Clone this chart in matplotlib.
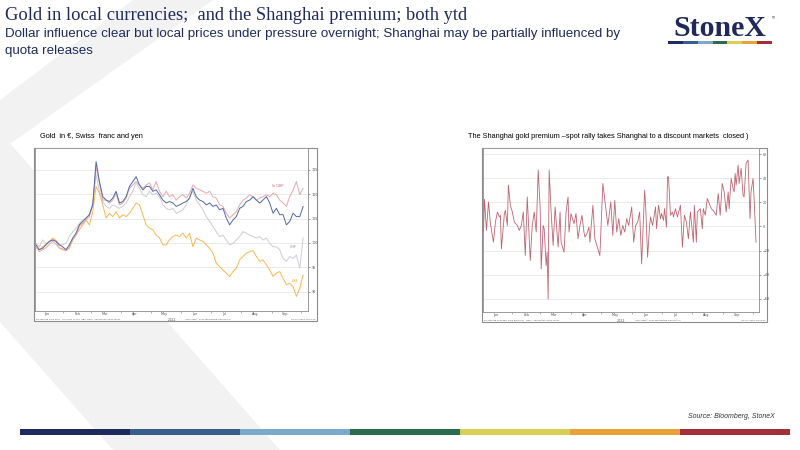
import numpy as np
import pandas as pd
import matplotlib
matplotlib.use("Agg")
import matplotlib.pyplot as plt
import matplotlib.dates as mdates
from matplotlib.patches import Polygon, Rectangle

# ---- data: gold rebased to 100, sampled roughly every 3.4 days ----
gold_dates = pd.date_range("2022-01-04", "2022-10-03", periods=81)

gold_eur = [99.6, 98.6, 98.9, 99.6, 100.3, 100.6, 100.3, 99.6, 99.2, 98.6,
            99.6, 101.0, 102.0, 103.7, 104.4, 105.1, 105.8, 107.8, 116.7, 112.6,
            109.5, 108.8, 108.5, 109.2, 110.6, 108.2, 108.5, 109.5, 111.6, 112.6,
            113.6, 111.9, 110.9, 111.6, 111.6, 110.6, 110.9, 109.9, 108.8, 108.2,
            108.5, 108.2, 107.5, 107.8, 108.2, 108.5, 109.2, 111.2, 109.5, 108.8,
            108.5, 107.8, 108.2, 107.5, 107.8, 106.8, 107.1, 105.1, 103.7, 104.7,
            105.4, 107.1, 107.5, 108.5, 108.8, 109.5, 108.8, 108.2, 108.8, 109.5,
            108.2, 106.1, 107.1, 105.8, 105.8, 103.7, 104.4, 106.1, 105.4, 105.4,
            107.5]

gold_gbp = [99.2, 98.2, 98.6, 99.0, 99.7, 100.3, 99.7, 99.0, 98.8, 98.4,
            99.2, 100.6, 101.6, 103.4, 104.0, 104.7, 105.4, 107.8, 115.7, 112.3,
            108.8, 108.8, 108.2, 108.8, 110.2, 107.8, 108.2, 109.2, 111.2, 111.9,
            112.6, 111.9, 111.2, 111.9, 112.3, 110.9, 112.6, 110.6, 109.5, 110.6,
            109.5, 109.9, 108.8, 109.5, 109.9, 109.2, 110.2, 111.9, 111.2, 110.9,
            110.6, 110.2, 110.6, 109.5, 109.2, 107.8, 107.5, 106.1, 105.1, 105.8,
            106.4, 107.8, 108.8, 109.2, 109.9, 109.5, 108.8, 109.2, 109.5, 109.9,
            109.5, 110.2, 109.9, 108.8, 108.2, 107.5, 109.5, 110.9, 112.6, 109.9,
            111.2]

gold_chf = [99.9, 99.2, 100.6, 99.9, 100.3, 100.6, 100.6, 99.6, 99.6, 99.9,
            101.3, 102.3, 103.0, 104.0, 104.7, 105.1, 105.8, 108.2, 114.0, 110.6,
            108.5, 107.5, 107.1, 107.8, 107.5, 107.1, 107.5, 108.2, 109.5, 110.6,
            112.3, 111.2, 109.9, 109.5, 110.6, 109.9, 110.2, 109.5, 107.8, 107.1,
            106.8, 107.1, 106.1, 106.4, 106.8, 107.8, 109.5, 110.6, 108.8, 107.8,
            106.8, 105.4, 104.4, 103.4, 102.3, 101.3, 101.6, 100.6, 99.6, 99.9,
            100.6, 101.3, 102.3, 102.0, 101.6, 101.3, 101.0, 101.3, 100.6, 101.0,
            99.9, 99.2, 99.2, 98.6, 96.8, 96.2, 97.2, 96.8, 97.5, 94.8,
            101.0]

gold_usd = [99.0, 98.6, 99.2, 99.7, 100.3, 101.0, 100.4, 98.9, 98.6, 98.4,
            98.9, 100.6, 101.6, 102.7, 103.7, 104.7, 103.7, 106.4, 111.6, 110.2,
            107.8, 105.1, 106.1, 105.4, 106.4, 105.1, 105.8, 105.4, 106.1, 107.1,
            108.2, 107.8, 105.8, 103.7, 103.0, 102.7, 101.6, 101.0, 99.6, 99.6,
            100.6, 101.3, 101.6, 101.3, 102.0, 101.0, 102.0, 99.2, 101.0, 100.6,
            100.3, 99.6, 98.9, 97.9, 95.8, 95.1, 94.4, 93.8, 93.1, 94.1,
            94.8, 96.5, 97.2, 97.9, 98.2, 98.4, 97.2, 96.2, 96.5, 95.5,
            94.4, 93.1, 93.8, 94.1, 92.7, 91.4, 91.7, 91.0, 89.0, 90.7,
            93.4]

# ---- data: Shanghai premium ($/oz), day of year 2022 ----
premium_day = [2, 3, 5, 7, 9, 12, 14, 16, 18, 19,
               20, 23, 24, 26, 27, 29, 31, 33, 36, 38,
               40, 42, 44, 46, 49, 51, 53, 55, 57, 59,
               60, 62, 63, 65, 66, 67, 68, 70, 72, 74,
               77, 79, 80, 83, 85, 87, 88, 90, 93, 95,
               97, 99, 101, 103, 104, 106, 108, 109, 112, 114,
               116, 119, 122, 124, 127, 130, 132, 134, 136, 138,
               140, 142, 144, 146, 148, 151, 153, 155, 157, 159,
               161, 164, 165, 167, 169, 170, 172, 175, 176, 178,
               180, 181, 183, 184, 186, 187, 188, 190, 192, 193,
               195, 197, 200, 202, 204, 206, 208, 210, 213, 214,
               216, 217, 220, 222, 223, 225, 227, 229, 231, 233,
               235, 236, 238, 240, 242, 244, 246, 248, 249, 251,
               253, 254, 255, 256, 258, 259, 261, 263, 264, 266,
               268, 270, 271, 273, 274, 276]
premium = [-4.7, 22.5, -3.3, 20.3, 2.2, -13.1, 3.6, 11.9, 7.8, 9.2,
           -18.6, 10.6, 13.3, 0.8, 34.2, 17.5, 11.9, 3.6, 0.8, -3.3,
           0.8, 11.9, -24.2, 24.4, -28.3, 0.8, 11.9, -4.7, 46.7, 14.7,
           -35.3, 0.8, -1.9, -32.5, -21.4, -60.3, 46.7, 11.9, -15.8, 16.1,
           -17.2, 11.9, -13.1, -21.4, 11.9, 24.4, -4.7, 10.6, 2.2, 10.6,
           -10.3, 0.8, 9.2, -4.7, -8.9, -6.1, -0.6, -13.1, 17.5, -10.3,
           -15.8, -24.2, 35.6, 21.7, 0.8, 20.3, -7.5, 21.7, -4.7, 6.4,
           -7.5, 0.8, -4.7, 6.4, 0.8, 16.1, -13.1, 0.8, 3.6, 11.9,
           -31.1, 30.0, 17.5, -25.6, 0.8, 7.8, 0.8, 16.1, -1.9, 17.5,
           6.4, 10.6, 5.0, 14.7, -0.6, 41.1, 41.1, 9.2, 11.9, 7.8,
           14.7, 7.8, 17.5, -17.2, 9.2, 3.6, -10.3, 11.9, -13.1, 17.5,
           -13.1, 11.9, 14.7, -1.9, 14.7, 9.2, 23.1, 18.9, 14.7, 13.3,
           10.6, 9.2, 27.2, 9.2, 35.6, 28.6, 11.9, 28.6, 14.7, 39.7,
           31.4, 28.6, 43.9, 34.2, 50.8, 35.6, 48.1, 25.8, 24.4, 52.2,
           55.0, 6.4, 28.6, 39.7, 24.4, -13.1]

gold_ticks = [90, 95, 100, 105, 110, 115]
premium_ticks = [-60, -40, -20, 0, 20, 40, 60]
bar_colors = ["#1F2A5C", "#3A5E8C", "#7CA8C9", "#2C6B4C", "#D9CF55", "#E9A13A", "#A52F38"]

NAVY = "#1F2A5C"
W, H = 800, 450


def px_rect(x0, y0, x1, y1):
    return [x0 / W, 1 - y1 / H, (x1 - x0) / W, (y1 - y0) / H]


fig = plt.figure(figsize=(8, 4.5), dpi=100)
bg = fig.add_axes([0, 0, 1, 1])
bg.set_xlim(0, W)
bg.set_ylim(H, 0)
bg.axis("off")

# faint chevron in the background
bg.add_patch(Polygon([(133, 0), (213, 0), (0, 151), (0, 100)], closed=True,
                     facecolor="#F2F2F2", edgecolor="none", zorder=0))
bg.add_patch(Polygon([(0, 132), (0, 322), (113, 450), (280, 450)], closed=True,
                     facecolor="#F2F2F2", edgecolor="none", zorder=0))

# headings
bg.text(5, 16, "Gold in local currencies;  and the Shanghai premium; both ytd",
        family="Liberation Serif", fontsize=13.3, color=NAVY, va="center")
bg.text(5, 34, "Dollar influence clear but local prices under pressure overnight; Shanghai may be partially influenced by",
        family="Liberation Sans", fontsize=9.6, color=NAVY, va="center")
bg.text(5, 51, "quota releases", family="Liberation Sans", fontsize=9.6, color=NAVY, va="center")

# logo
bg.text(719.5, 35.5, "StoneX", family="Liberation Serif", fontweight="bold", fontsize=21.5,
        color=NAVY, ha="center", va="baseline")
bg.text(771, 16, "TM", fontsize=1.8, color=NAVY, va="top")
seg = (772 - 668) / len(bar_colors)
for i, c in enumerate(bar_colors):
    bg.add_patch(Rectangle((668 + i * seg, 40.5), seg, 3, facecolor=c, edgecolor="none"))

# bottom colour strip and source
seg = (790 - 20) / len(bar_colors)
for i, c in enumerate(bar_colors):
    bg.add_patch(Rectangle((20 + i * seg, 429), seg, 6, facecolor=c, edgecolor="none"))
bg.text(775, 417, "Source: Bloomberg, StoneX", family="Liberation Sans", style="italic",
        fontsize=5, color="#333333", ha="right", va="center")

# chart titles
bg.text(40, 137, "Gold  in \u20ac, Swiss  franc and yen", family="Liberation Sans",
        fontsize=5.3, color="black", va="center")
bg.text(468, 137, "The Shanghai gold premium \u2013spot rally takes Shanghai to a discount markets  closed )",
        family="Liberation Sans", fontsize=5.3, color="black", va="center")

# chart frames
for (x0, y0, x1, y1) in [(34, 148, 317, 321), (482, 148, 767, 322)]:
    bg.add_patch(Rectangle((x0, y0), x1 - x0, y1 - y0, facecolor="white",
                           edgecolor="#8C8C8C", lw=0.8, zorder=1))

# footers
bg.text(36, 319, "Bloomberg Gold Spot   XAU EUR & XAU GBP  Daily  03JAN2022-04OCT2022",
        fontsize=1.6, color="#555555", va="center")
bg.text(185, 319, "Copyright\u00a9 2022 Bloomberg Finance L.P.", fontsize=1.6, color="#555555", va="center")
bg.text(315, 319, "04-Oct-2022 10:02:33", fontsize=1.6, color="#555555", va="center", ha="right")
bg.text(484, 320, "Bloomberg Shanghai Gold premium   Daily  03JAN2022-04OCT2022",
        fontsize=1.6, color="#555555", va="center")
bg.text(635, 320, "Copyright\u00a9 2022 Bloomberg Finance L.P.", fontsize=1.6, color="#555555", va="center")
bg.text(765, 320, "04-Oct-2022 10:03:12", fontsize=1.6, color="#555555", va="center", ha="right")


def style_axes(ax, ticks):
    ax.set_facecolor("white")
    for s in ax.spines.values():
        s.set_color("#8C8C8C")
        s.set_linewidth(0.6)
    ax.yaxis.tick_right()
    ax.set_yticks(ticks)
    ax.tick_params(axis="y", labelsize=2.4, length=1.5, width=0.4, colors="#555555", pad=1)
    ax.grid(axis="y", color="#E8E8E8", lw=0.6)
    ax.set_axisbelow(True)
    ax.xaxis.set_major_locator(mdates.MonthLocator())
    ax.xaxis.set_major_formatter(plt.NullFormatter())
    ax.xaxis.set_minor_locator(mdates.MonthLocator(bymonthday=15))
    ax.xaxis.set_minor_formatter(mdates.DateFormatter("%b"))
    ax.tick_params(axis="x", which="major", length=1.5, width=0.4, colors="#777777")
    ax.tick_params(axis="x", which="minor", length=0, labelsize=2.4, labelcolor="#555555", pad=1)
    ax.text(0.5, -0.045, "2022", transform=ax.transAxes, fontsize=2.4, color="#555555",
            ha="center", va="top")


# left chart
ax1 = fig.add_axes(px_rect(35, 148, 308, 311))
ax1.plot(gold_dates, gold_chf, color="#CDCDD3", lw=0.7)
ax1.plot(gold_dates, gold_usd, color="#F8B850", lw=0.7)
ax1.plot(gold_dates, gold_gbp, color="#E9A7AF", lw=0.7)
ax1.plot(gold_dates, gold_eur, color="#5068A6", lw=0.7)
ax1.set_xlim(pd.Timestamp("2022-01-03"), pd.Timestamp("2022-10-08"))
ax1.set_ylim(86, 119.5)
style_axes(ax1, gold_ticks)
ax1.text(pd.Timestamp("2022-09-07"), 111.5, "In GBP", fontsize=2.4, color="#E06070", ha="center")
ax1.text(pd.Timestamp("2022-09-23"), 99.0, "CHF", fontsize=2.4, color="#888888", ha="center")
ax1.text(pd.Timestamp("2022-09-25"), 92.0, "US$", fontsize=2.4, color="#F0A030", ha="center")

# right chart
ax2 = fig.add_axes(px_rect(483, 148, 759, 312))
prem_dates = pd.Timestamp("2022-01-01") + pd.to_timedelta(premium_day, unit="D")
ax2.plot(prem_dates, premium, color="#BE6470", lw=0.6)
ax2.set_xlim(pd.Timestamp("2022-01-02 12:00"), pd.Timestamp("2022-10-07"))
ax2.set_ylim(-71, 65)
style_axes(ax2, premium_ticks)

fig.savefig("out.png", dpi=100)
